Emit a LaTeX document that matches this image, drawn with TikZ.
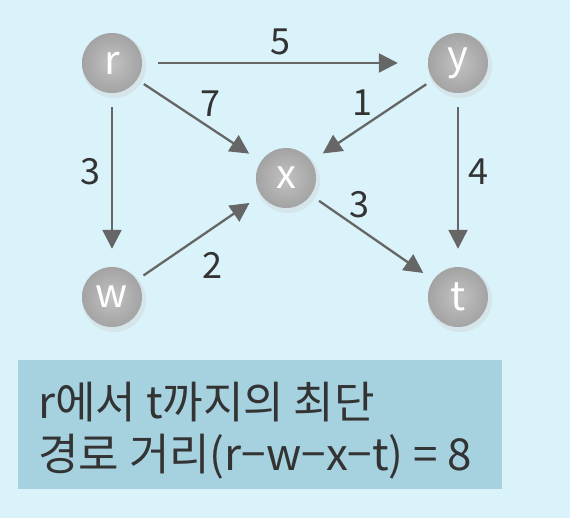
\documentclass[tikz,border=0pt]{standalone}
\usepackage{fontspec}
\setmainfont{Noto Sans CJK KR}
\usetikzlibrary{arrows.meta}
\definecolor{bgc}{HTML}{DAF3FB}
\definecolor{boxc}{HTML}{A6D1DF}
\definecolor{edgec}{HTML}{666666}
\definecolor{txtc}{HTML}{333333}
\tikzset{
  vert/.style={circle, minimum size=60pt, inner sep=0pt, text=white,
    inner color=gray!48, outer color=gray!72, font=\fontsize{40}{40}\selectfont},
  edge/.style={draw=edgec, line width=2.3pt, -{Triangle[length=19pt,width=19pt]}},
  wlab/.style={text=txtc, font=\fontsize{36}{36}\selectfont},
  btxt/.style={anchor=base west, text=txtc, font=\fontsize{44}{44}\selectfont, inner sep=0pt},
}
\begin{document}
\begin{tikzpicture}[x=1pt,y=-1pt]
\fill[bgc] (0,0) rectangle (570,518);
\useasboundingbox (0,0) rectangle (570,518);
\foreach \p in {(112,63),(458,63),(286,178),(112,297),(458,297)}
  \fill[gray!40, opacity=0.35] \p ++(2,3) circle (32pt);
\node[vert] (r) at (112,63) {r};
\node[vert] (y) at (458,63) {y};
\node[vert] (x) at (286,178) {x};
\node[vert] (w) at (112,297) {w};
\node[vert] (t) at (458,297) {t};
\draw[edge, shorten <=16pt, shorten >=30pt] (r) -- (y);
\draw[edge, shorten <=8pt, shorten >=14pt] (r) -- (x);
\draw[edge, shorten <=8pt, shorten >=14pt] (y) -- (x);
\draw[edge, shorten <=14pt, shorten >=18pt] (r) -- (w);
\draw[edge, shorten <=8pt, shorten >=14pt] (w) -- (x);
\draw[edge, shorten <=14pt, shorten >=18pt] (y) -- (t);
\draw[edge, shorten <=10pt, shorten >=12pt] (x) -- (t);
\node[wlab] (l5) at (280,42) {5};
\node[wlab] (l7) at (210,104) {7};
\node[wlab] (l1) at (362,103) {1};
\node[wlab] (l3a) at (90,172) {3};
\node[wlab] (l4) at (478,172) {4};
\node[wlab] (l2) at (212,265) {2};
\node[wlab] (l3b) at (359,205) {3};
\node[fill=boxc, minimum width=484pt, minimum height=129pt, anchor=north west, inner sep=0pt] (box) at (18,360) {};
\node[btxt] (t1) at (38,418) {r에서 t까지의 최단};
\node[btxt] (t2) at (38,470) {경로 거리(r−w−x−t) = 8};
\end{tikzpicture}
\end{document}
